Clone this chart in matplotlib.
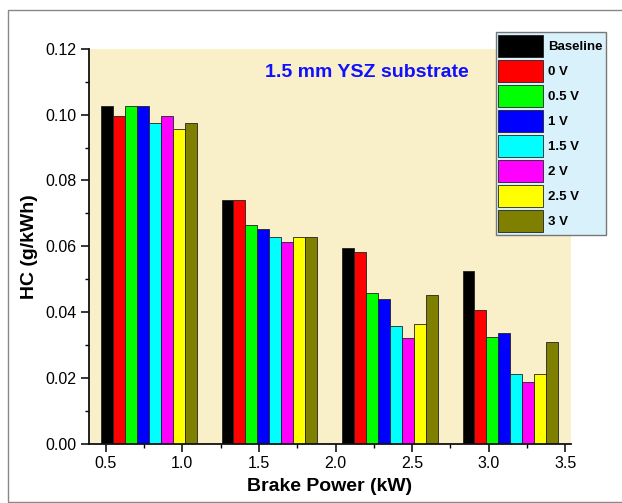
import numpy as np
import matplotlib; matplotlib.use('agg')
import matplotlib.pyplot as plt
from matplotlib.patches import Rectangle
from matplotlib.ticker import MultipleLocator, FormatStrFormatter

plt.rcParams['font.family'] = ['Liberation Sans', 'DejaVu Sans']

# HC emission (g/kWh) for each applied voltage
series_names = ["Baseline", "0 V", "0.5 V", "1 V", "1.5 V", "2 V", "2.5 V", "3 V"]
baseline = [0.1028, 0.0740, 0.0594, 0.0524]
v0 = [0.0996, 0.0740, 0.0584, 0.0407]
v05 = [0.1028, 0.0665, 0.0457, 0.0324]
v1 = [0.1028, 0.0652, 0.0439, 0.0335]
v15 = [0.0975, 0.0628, 0.0357, 0.0212]
v2 = [0.0996, 0.0614, 0.0322, 0.0188]
v25 = [0.0956, 0.0628, 0.0363, 0.0212]
v3 = [0.0975, 0.0628, 0.0452, 0.0308]
values = [baseline, v0, v05, v1, v15, v2, v25, v3]

colors = ["#000000", "#ff0000", "#00ff00", "#0000ff",
          "#00ffff", "#ff00ff", "#ffff00", "#808000"]

# group centres on the brake power axis and bar width
centers = np.array([0.782, 1.568, 2.355, 3.141])
bw = 0.078

fig = plt.figure(figsize=(6.22, 5.03), dpi=100)
ax = fig.add_axes([89/622, 1-443.5/503, (570.7-89)/622, (443.5-49)/503])
ax.set_facecolor("#f9efc9")

handles = []
for i, (name, vals) in enumerate(zip(series_names, values)):
    xs = centers + (i - 3.5)*bw
    b = ax.bar(xs, vals, width=bw, color=colors[i], edgecolor="#222222",
               linewidth=0.6, label=name, zorder=2)
    handles.append(b)

ax.set_xlim(0.391, 3.535)
ax.set_ylim(0, 0.12)
ax.xaxis.set_major_locator(MultipleLocator(0.5))
ax.xaxis.set_minor_locator(MultipleLocator(0.25))
ax.yaxis.set_major_locator(MultipleLocator(0.02))
ax.yaxis.set_minor_locator(MultipleLocator(0.01))
ax.xaxis.set_major_formatter(FormatStrFormatter('%.1f'))
ax.yaxis.set_major_formatter(FormatStrFormatter('%.2f'))

for s in ['top', 'right']:
    ax.spines[s].set_visible(False)
for s in ['left', 'bottom']:
    ax.spines[s].set_linewidth(1.3)
    ax.spines[s].set_color("#111111")
    ax.spines[s].set_zorder(3)

ax.tick_params(which='major', direction='out', length=6, width=1.1,
               labelsize=11.5, pad=3)
ax.tick_params(which='minor', direction='out', length=3, width=1.0)

ax.set_xlabel("Brake Power (kW)", fontsize=14, fontweight='bold', labelpad=5)
ax.set_ylabel("HC (g/kWh)", fontsize=14, fontweight='bold', labelpad=5)

ax.text(0.577, 0.930, "1.5 mm YSZ substrate", transform=ax.transAxes,
        ha='center', va='baseline', fontsize=14, fontweight='bold',
        color="#1010ff")

leg = fig.legend(handles=handles, loc='upper left',
                 bbox_to_anchor=(495.7/622, 1-32.3/503),
                 prop={'weight': 'bold', 'size': 9.5},
                 fancybox=False, framealpha=1, facecolor="#d8f1fb",
                 edgecolor="#777777", handlelength=3.4, handleheight=2.19,
                 labelspacing=0.23, handletextpad=0.4, borderpad=0.2,
                 borderaxespad=0)
leg.get_frame().set_linewidth(1.0)

# outer frame around the whole figure
fig.patches.append(Rectangle((8/622, 1.5/503), 1.0, 1-11.5/503,
                             transform=fig.transFigure, fill=False,
                             edgecolor="#888888", linewidth=1.0))

fig.savefig("out.png", dpi=100)
